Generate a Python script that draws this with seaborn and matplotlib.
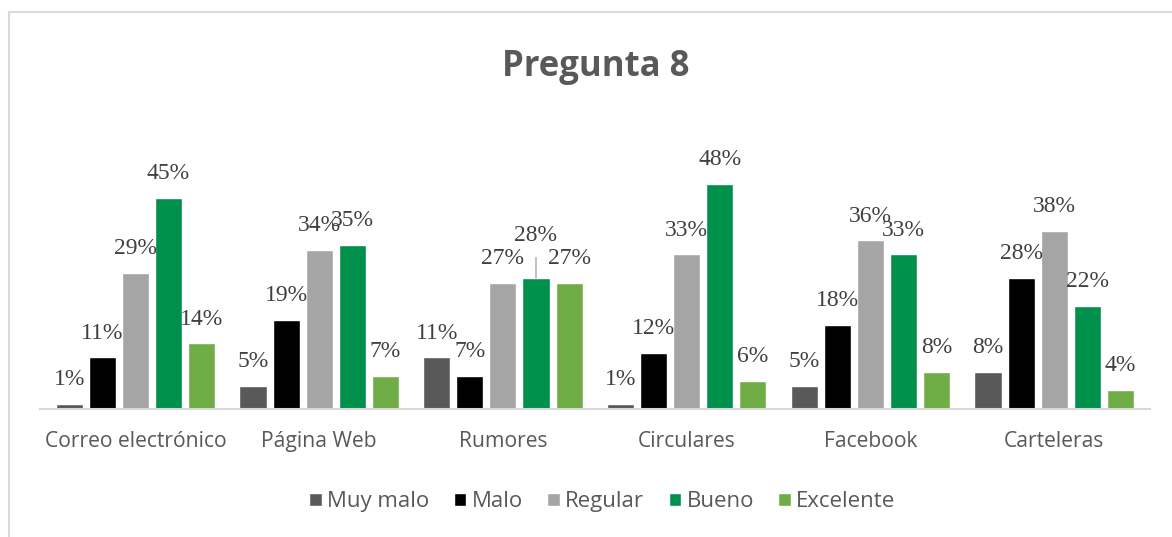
"""
Pregunta 8 - barras agrupadas por medio de comunicación.
"""

import matplotlib.pyplot as plt
import pandas as pd
import seaborn as sns
from matplotlib.patches import Rectangle

# ============================================================================
# DATOS
# ============================================================================

categorias = [
    "Correo electrónico",
    "Página Web",
    "Rumores",
    "Circulares",
    "Facebook",
    "Carteleras",
]
series = ["Muy malo", "Malo", "Regular", "Bueno", "Excelente"]

muy_malo = [0.01, 0.05, 0.11, 0.01, 0.05, 0.08]
malo = [0.11, 0.19, 0.07, 0.12, 0.18, 0.28]
regular = [0.29, 0.34, 0.27, 0.33, 0.36, 0.38]
bueno = [0.45, 0.35, 0.28, 0.48, 0.33, 0.22]
excelente = [0.14, 0.07, 0.27, 0.06, 0.08, 0.04]

colores = ["#595959", "#000000", "#A5A5A5", "#00904C", "#70AD47"]

# ============================================================================
# GRÁFICO
# ============================================================================

valores = [muy_malo, malo, regular, bueno, excelente]
df = pd.DataFrame(
    [
        {"Medio": cat, "Serie": serie, "Valor": vals[i]}
        for serie, vals in zip(series, valores)
        for i, cat in enumerate(categorias)
    ]
)

sns.set_theme(style="white")
plt.rcParams["font.family"] = ["Open Sans", "DejaVu Sans"]

fig = plt.figure(figsize=(11.72, 5.37), dpi=100)
ax = fig.add_axes([0.034, 0.2384, 0.947, 0.5232])

sns.barplot(
    data=df,
    x="Medio",
    y="Valor",
    hue="Serie",
    hue_order=series,
    order=categorias,
    palette=colores,
    width=0.9,
    gap=0.18,
    saturation=1,
    errorbar=None,
    ax=ax,
)

ax.set_ylim(0, 0.6)
ax.set_xlim(-0.52, 5.52)
ax.set_yticks([])
ax.set_xlabel("")
ax.set_ylabel("")
for side in ["top", "right", "left"]:
    ax.spines[side].set_visible(False)
ax.spines["bottom"].set_color("#D9D9D9")
ax.spines["bottom"].set_linewidth(1.5)
ax.tick_params(axis="x", length=0, pad=16, labelsize=15.2, labelcolor="#595959")

# Etiquetas de datos
for cont, serie in zip(ax.containers, series):
    for i, bar in enumerate(cont):
        h = bar.get_height()
        x = bar.get_x() + bar.get_width() / 2
        if serie == "Bueno" and categorias[i] == "Rumores":
            # etiqueta desplazada con línea guía
            ax.annotate(
                f"{h:.0%}",
                xy=(x, h),
                xytext=(x, h + 0.068),
                ha="center",
                va="bottom",
                fontsize=17,
                color="#404040",
                family="Liberation Serif",
                arrowprops=dict(
                    arrowstyle="-", color="#A6A6A6", lw=1, shrinkA=6, shrinkB=0
                ),
            )
            continue
        ax.annotate(
            f"{h:.0%}",
            xy=(x, h),
            xytext=(0, 10),
            textcoords="offset points",
            ha="center",
            va="bottom",
            fontsize=17,
            color="#404040",
            family="Liberation Serif",
        )

leg = ax.legend(
    loc="center",
    bbox_to_anchor=(0.514, 0.066),
    bbox_transform=fig.transFigure,
    ncol=5,
    frameon=False,
    fontsize=16,
    handlelength=0.55,
    handleheight=0.55,
    handletextpad=0.25,
    columnspacing=1.1,
    title=None,
)
for t in leg.get_texts():
    t.set_color("#595959")

fig.text(
    0.5085,
    0.875,
    "Pregunta 8",
    ha="center",
    va="center",
    fontsize=25,
    fontweight="bold",
    color="#595959",
)

# Borde del área del gráfico
fig.patches.append(
    Rectangle(
        (9 / 1172, -0.1),
        1.2,
        1 - 12 / 537 + 0.1,
        transform=fig.transFigure,
        fill=False,
        edgecolor="#D9D9D9",
        linewidth=1.5,
    )
)

fig.savefig("out.png", dpi=100)
plt.close(fig)
